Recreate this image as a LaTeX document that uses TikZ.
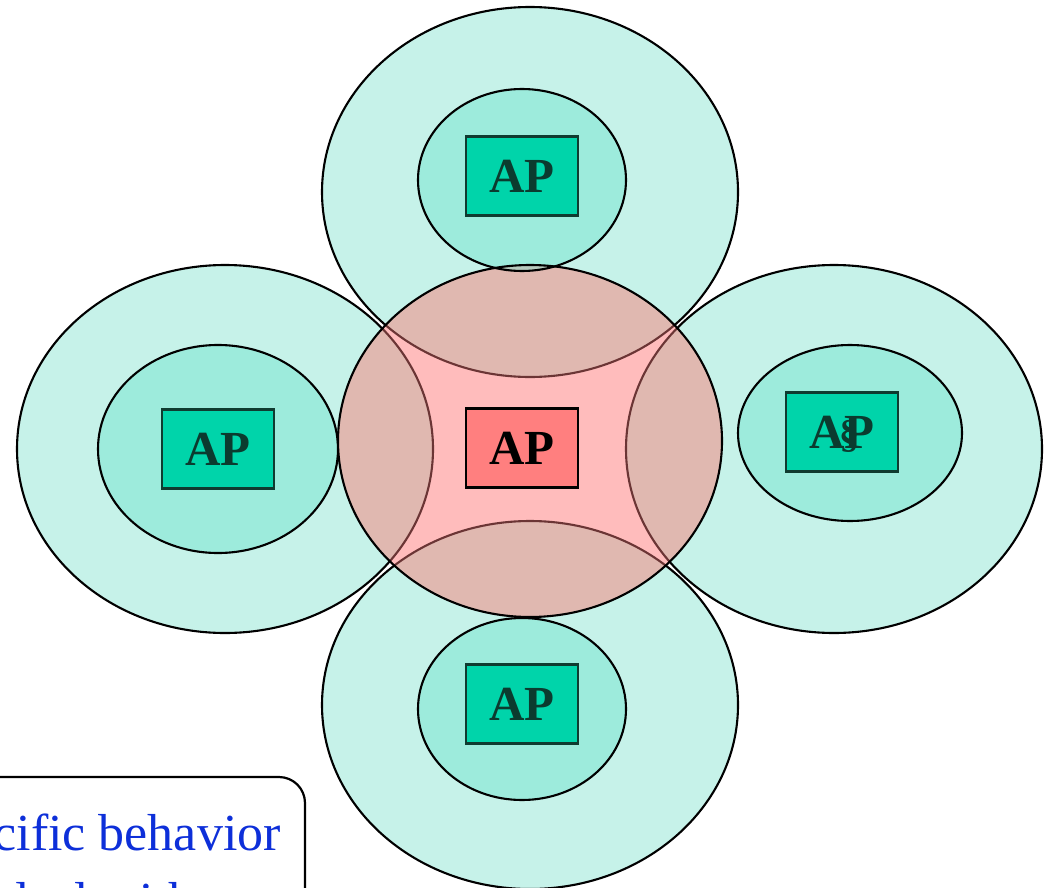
\documentclass[tikz,border=0pt]{standalone}
\usepackage{fontspec}
\setmainfont{Liberation Serif}
\definecolor{outerc}{HTML}{C6F2E9}
\definecolor{innerc}{HTML}{9DEBDC}
\definecolor{boxc}{HTML}{00D4AA}
\definecolor{boxline}{HTML}{0F3B30}
\definecolor{boxtext}{HTML}{0B3B2F}
\definecolor{pinkc}{HTML}{FFBCBC}
\definecolor{brownc}{HTML}{E0B8B0}
\definecolor{brownline}{HTML}{6B3535}
\definecolor{grayc}{HTML}{B6CABE}
\definecolor{redbox}{HTML}{FF7F7F}
\definecolor{bluetext}{HTML}{0D2FD9}
\tikzset{
  outerell/.style={fill=outerc,draw=black,line width=2.1pt},
  innerell/.style={fill=innerc,draw=black,line width=2.1pt},
  apbox/.style={draw=boxline,fill=boxc,line width=2.4pt,minimum width=112pt,minimum height=79pt,inner sep=0pt,text=boxtext,font=\bfseries\fontsize{49}{49}\selectfont},
  apred/.style={apbox,draw=black,fill=redbox,text=black},
  note/.style={text=bluetext,font=\fontsize{52}{62}\selectfont,inner sep=0pt}
}
\begin{document}
\begin{tikzpicture}[x=1pt,y=-1pt]
\useasboundingbox (0,0) rectangle (1046,888);
% outer coverage ellipses
\path[outerell] (530,192) ellipse [x radius=208,y radius=185];
\path[outerell] (225,449) ellipse [x radius=208,y radius=184];
\path[outerell] (834,449) ellipse [x radius=208,y radius=184];
\path[outerell] (530,705) ellipse [x radius=208,y radius=184];
% inner ellipses
\path[innerell] (522,180) ellipse [x radius=104,y radius=91];
\path[innerell] (218,449) ellipse [x radius=120,y radius=104];
\path[innerell] (850,433) ellipse [x radius=112,y radius=88];
\path[innerell] (522,709) ellipse [x radius=104,y radius=91];
% central cell
\fill[pinkc] (530,441) ellipse [x radius=192,y radius=176];
\begin{scope}
  \clip (530,441) ellipse [x radius=192,y radius=176];
  \fill[brownc] (530,192) ellipse [x radius=208,y radius=185];
  \fill[brownc] (225,449) ellipse [x radius=208,y radius=184];
  \fill[brownc] (834,449) ellipse [x radius=208,y radius=184];
  \fill[brownc] (530,705) ellipse [x radius=208,y radius=184];
  \fill[grayc] (522,180) ellipse [x radius=104,y radius=91];
  \draw[brownline,line width=2.1pt] (530,192) ellipse [x radius=208,y radius=185];
  \draw[brownline,line width=2.1pt] (225,449) ellipse [x radius=208,y radius=184];
  \draw[brownline,line width=2.1pt] (834,449) ellipse [x radius=208,y radius=184];
  \draw[brownline,line width=2.1pt] (530,705) ellipse [x radius=208,y radius=184];
  \draw[black,line width=2.1pt] (522,180) ellipse [x radius=104,y radius=91];
\end{scope}
\draw[black,line width=2.1pt] (530,441) ellipse [x radius=192,y radius=176];
% access points
\node[apbox] (aptop) at (522,176) {AP};
\node[apbox] (apleft) at (218,449) {AP};
\node[apred] (apcenter) at (522,448) {AP};
\node[apbox] (apright) at (842,432) {AP};
\node[apbox] (apbottom) at (522,704) {AP};
\node[text=boxtext,font=\bfseries\fontsize{40}{40}\selectfont,inner sep=0pt] (sect) at (849,436) {\S};
% note box (partly outside)
\draw[black,line width=2.2pt,rounded corners=26pt] (-30,920) -- (-30,777) -- (305,777) -- (305,920);
\node[note,anchor=base east] (line1) at (281,850) {cific behavior};
\node[note,anchor=base west] (line2) at (2,918) {deal with};
\end{tikzpicture}
\end{document}
